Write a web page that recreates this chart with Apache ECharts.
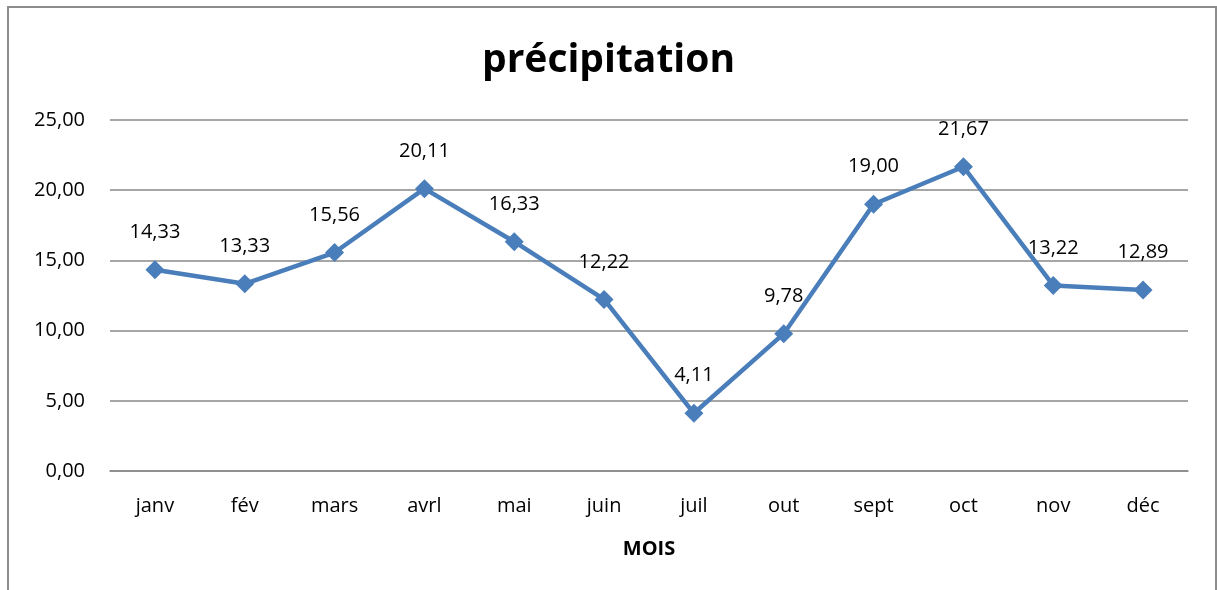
<!DOCTYPE html>
<html>
<head>
<meta charset="utf-8">
<script src="https://cdn.jsdelivr.net/npm/echarts@6/dist/echarts.min.js"></script>
<style>
  html, body { margin: 0; padding: 0; background: #fff; }
  #chart { width: 1217px; height: 590px; }
</style>
</head>
<body>
<div id="chart"></div>
<script>
// données
const mois = ['janv', 'fév', 'mars', 'avrl', 'mai', 'juin', 'juil', 'out', 'sept', 'oct', 'nov', 'déc'];
const precipitation = [14.33, 13.33, 15.56, 20.11, 16.33, 12.22, 4.11, 9.78, 19.00, 21.67, 13.22, 12.89];

const fmt = v => v.toFixed(2).replace('.', ',');
const font = '"Open Sans", "Liberation Sans", sans-serif';

const chart = echarts.init(document.getElementById('chart'));
chart.setOption({
  animation: false,
  textStyle: { fontFamily: font },
  title: {
    text: 'précipitation',
    left: 'center',
    top: 36,
    textStyle: { fontSize: 39, fontWeight: 'bold', color: '#000', fontFamily: font }
  },
  graphic: [{
    type: 'rect',
    shape: { x: 8, y: 7, width: 1208, height: 620 },
    style: { fill: 'none', stroke: '#8c8c8c', lineWidth: 2 },
    silent: true
  }],
  grid: { left: 110, right: 29, top: 120, bottom: 119 },
  xAxis: {
    type: 'category',
    data: mois,
    boundaryGap: true,
    axisLine: { lineStyle: { color: '#888', width: 1.5 } },
    axisTick: { show: false },
    axisLabel: { color: '#000', fontSize: 20, margin: 25, fontFamily: font },
    name: 'MOIS',
    nameLocation: 'middle',
    nameGap: 68,
    nameTextStyle: { color: '#000', fontSize: 20, fontWeight: 'bold', fontFamily: font }
  },
  yAxis: {
    type: 'value',
    min: 0,
    max: 25,
    interval: 5,
    axisLine: { show: false },
    axisTick: { show: false },
    splitLine: { lineStyle: { color: '#888', width: 1.5 } },
    axisLabel: { color: '#000', fontSize: 20, margin: 25, formatter: fmt, fontFamily: font }
  },
  series: [{
    type: 'line',
    data: precipitation,
    symbol: 'diamond',
    symbolSize: 19,
    lineStyle: { color: '#4a7ebb', width: 4.5 },
    itemStyle: { color: '#4a7ebb' },
    label: {
      show: true,
      position: 'top',
      distance: 18,
      color: '#000',
      fontSize: 20,
      fontFamily: font,
      formatter: p => fmt(p.value)
    }
  }]
});
</script>
</body>
</html>
